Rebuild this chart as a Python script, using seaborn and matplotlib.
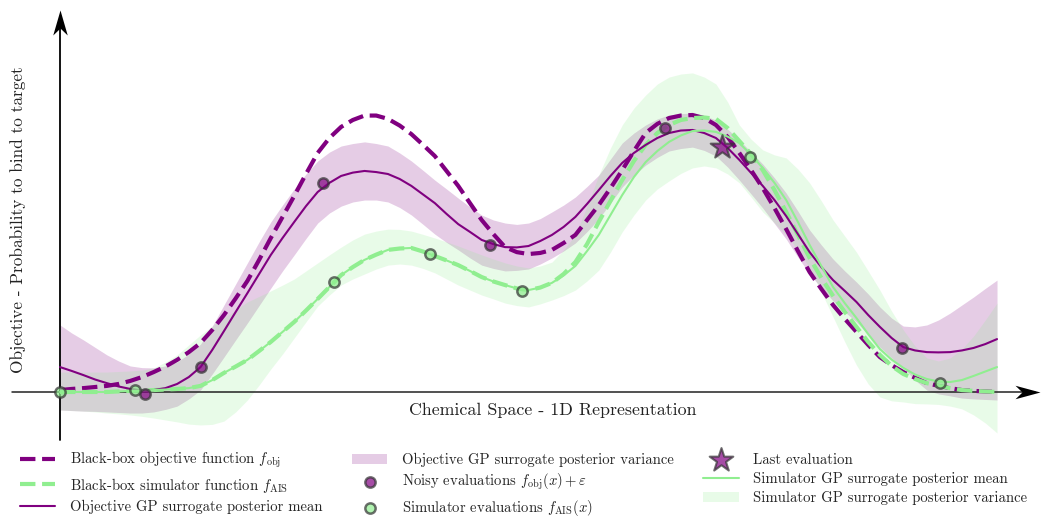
import numpy as np
import pandas as pd
import matplotlib
matplotlib.use("Agg")
import matplotlib.pyplot as plt
from matplotlib.path import Path
import seaborn as sns

# ---------------- data ----------------
# positions along the 1D chemical-space axis where the curves were read
x_pos = [0.0, 0.125, 0.25, 0.375, 0.5, 0.625, 0.75, 0.875, 1.0, 1.125,
         1.25, 1.375, 1.5, 1.625, 1.75, 1.875, 2.0, 2.125, 2.25, 2.375,
         2.5, 2.625, 2.75, 2.875, 3.0, 3.125, 3.25, 3.375, 3.5, 3.625,
         3.75, 3.875, 4.0, 4.125, 4.25, 4.375, 4.5, 4.625, 4.75, 4.875,
         5.0, 5.125, 5.25, 5.375, 5.5, 5.625, 5.75, 5.875, 6.0, 6.125,
         6.25, 6.375, 6.5, 6.625, 6.75, 6.875, 7.0, 7.125, 7.25, 7.375,
         7.5, 7.625, 7.75, 7.875, 8.0, 8.125, 8.25, 8.375, 8.5, 8.625,
         8.75, 8.875, 9.0, 9.125, 9.25, 9.375, 9.5, 9.625, 9.75, 9.875, 10.0]

obj_true = [0.007, 0.011, 0.014, 0.018, 0.022, 0.029, 0.040, 0.054, 0.072, 0.092,
            0.116, 0.144, 0.177, 0.224, 0.278, 0.338, 0.401, 0.477, 0.556, 0.632,
            0.708, 0.787, 0.863, 0.917, 0.957, 0.982, 0.998, 0.998, 0.986, 0.962,
            0.931, 0.892, 0.852, 0.798, 0.744, 0.682, 0.621, 0.570, 0.523, 0.505,
            0.498, 0.502, 0.513, 0.538, 0.567, 0.621, 0.675, 0.736, 0.801, 0.870,
            0.935, 0.968, 0.989, 0.998, 1.000, 0.989, 0.964, 0.921, 0.863, 0.801,
            0.736, 0.664, 0.588, 0.509, 0.433, 0.372, 0.314, 0.264, 0.217, 0.170,
            0.126, 0.097, 0.072, 0.051, 0.032, 0.022, 0.014, 0.007, 0.004, 0.002, 0.000]

obj_mean = [0.090, 0.076, 0.061, 0.045, 0.032, 0.020, 0.011, 0.005, 0.007, 0.014,
            0.029, 0.054, 0.090, 0.152, 0.220, 0.289, 0.357, 0.426, 0.495, 0.556,
            0.614, 0.671, 0.722, 0.755, 0.780, 0.792, 0.798, 0.794, 0.787, 0.769,
            0.744, 0.713, 0.682, 0.643, 0.606, 0.578, 0.549, 0.534, 0.523, 0.522,
            0.527, 0.545, 0.567, 0.596, 0.632, 0.679, 0.729, 0.780, 0.827, 0.863,
            0.892, 0.917, 0.935, 0.944, 0.946, 0.935, 0.917, 0.881, 0.838, 0.791,
            0.744, 0.693, 0.635, 0.570, 0.505, 0.451, 0.404, 0.365, 0.325, 0.278,
            0.235, 0.195, 0.162, 0.150, 0.144, 0.143, 0.144, 0.150, 0.159, 0.173, 0.191]

obj_upper = [0.242, 0.213, 0.188, 0.161, 0.134, 0.112, 0.094, 0.088, 0.087, 0.094,
             0.108, 0.137, 0.173, 0.238, 0.314, 0.390, 0.466, 0.542, 0.614, 0.675,
             0.733, 0.787, 0.834, 0.866, 0.888, 0.897, 0.903, 0.897, 0.888, 0.863,
             0.834, 0.800, 0.765, 0.733, 0.700, 0.668, 0.639, 0.621, 0.610, 0.605,
             0.610, 0.626, 0.650, 0.675, 0.704, 0.742, 0.783, 0.841, 0.899, 0.935,
             0.964, 0.986, 1.000, 1.005, 1.007, 0.998, 0.982, 0.949, 0.910, 0.866,
             0.823, 0.773, 0.718, 0.653, 0.585, 0.531, 0.480, 0.437, 0.397, 0.354,
             0.307, 0.267, 0.238, 0.235, 0.242, 0.260, 0.285, 0.314, 0.343, 0.374, 0.404]

obj_lower = [-0.065, -0.067, -0.069, -0.070, -0.072, -0.074, -0.076, -0.076, -0.072, -0.063,
             -0.051, -0.025, 0.007, 0.065, 0.126, 0.188, 0.249, 0.312, 0.375, 0.437,
             0.495, 0.554, 0.610, 0.646, 0.671, 0.686, 0.693, 0.693, 0.686, 0.666,
             0.639, 0.605, 0.570, 0.540, 0.513, 0.484, 0.458, 0.446, 0.437, 0.439,
             0.444, 0.462, 0.484, 0.509, 0.538, 0.579, 0.625, 0.682, 0.740, 0.783,
             0.819, 0.847, 0.870, 0.879, 0.884, 0.872, 0.852, 0.812, 0.765, 0.715,
             0.664, 0.608, 0.552, 0.487, 0.426, 0.375, 0.329, 0.289, 0.253, 0.206,
             0.162, 0.123, 0.087, 0.043, 0.007, -0.007, -0.014, -0.022, -0.025, -0.027, -0.029]

sim_true = [0.000, 0.000, 0.000, 0.000, 0.000, 0.002, 0.004, 0.005, 0.007, 0.009,
            0.011, 0.014, 0.022, 0.043, 0.069, 0.092, 0.116, 0.148, 0.181, 0.217,
            0.253, 0.294, 0.336, 0.379, 0.422, 0.451, 0.477, 0.496, 0.513, 0.518,
            0.520, 0.507, 0.491, 0.475, 0.458, 0.437, 0.415, 0.399, 0.386, 0.374,
            0.368, 0.377, 0.394, 0.426, 0.469, 0.534, 0.614, 0.690, 0.765, 0.834,
            0.892, 0.935, 0.964, 0.982, 0.989, 0.991, 0.986, 0.953, 0.906, 0.859,
            0.801, 0.729, 0.650, 0.567, 0.484, 0.412, 0.347, 0.289, 0.235, 0.181,
            0.134, 0.094, 0.065, 0.047, 0.032, 0.022, 0.014, 0.007, 0.004, 0.002, 0.000]

sim_mean = [0.000, 0.000, 0.000, 0.000, 0.000, 0.002, 0.004, 0.005, 0.007, 0.009,
            0.011, 0.014, 0.022, 0.043, 0.069, 0.092, 0.116, 0.148, 0.181, 0.217,
            0.253, 0.294, 0.336, 0.379, 0.422, 0.451, 0.477, 0.496, 0.513, 0.518,
            0.520, 0.507, 0.491, 0.475, 0.458, 0.437, 0.415, 0.399, 0.386, 0.374,
            0.368, 0.377, 0.394, 0.421, 0.455, 0.509, 0.567, 0.639, 0.711, 0.776,
            0.830, 0.870, 0.903, 0.926, 0.942, 0.944, 0.939, 0.922, 0.899, 0.856,
            0.809, 0.755, 0.693, 0.614, 0.531, 0.455, 0.379, 0.321, 0.267, 0.209,
            0.155, 0.117, 0.087, 0.063, 0.047, 0.038, 0.036, 0.043, 0.058, 0.074, 0.090]

sim_upper = [0.072, 0.072, 0.072, 0.072, 0.072, 0.074, 0.076, 0.079, 0.087, 0.108,
             0.134, 0.170, 0.206, 0.238, 0.267, 0.296, 0.325, 0.345, 0.365, 0.386,
             0.408, 0.437, 0.466, 0.495, 0.523, 0.549, 0.570, 0.581, 0.588, 0.587,
             0.581, 0.569, 0.556, 0.542, 0.527, 0.511, 0.495, 0.480, 0.466, 0.455,
             0.448, 0.455, 0.469, 0.513, 0.567, 0.671, 0.783, 0.881, 0.964, 1.025,
             1.072, 1.112, 1.137, 1.148, 1.152, 1.137, 1.112, 1.047, 0.964, 0.913,
             0.874, 0.856, 0.845, 0.805, 0.755, 0.690, 0.621, 0.563, 0.505, 0.437,
             0.368, 0.292, 0.224, 0.166, 0.123, 0.112, 0.123, 0.155, 0.202, 0.260, 0.321]

sim_lower = [-0.065, -0.067, -0.069, -0.072, -0.076, -0.079, -0.083, -0.088, -0.094, -0.101,
             -0.108, -0.116, -0.119, -0.117, -0.105, -0.072, -0.029, 0.025, 0.083, 0.137,
             0.195, 0.253, 0.310, 0.350, 0.386, 0.408, 0.426, 0.444, 0.458, 0.462,
             0.458, 0.446, 0.430, 0.408, 0.386, 0.368, 0.350, 0.336, 0.321, 0.312,
             0.307, 0.318, 0.332, 0.348, 0.368, 0.401, 0.440, 0.505, 0.578, 0.639,
             0.693, 0.733, 0.762, 0.789, 0.809, 0.816, 0.809, 0.787, 0.755, 0.704,
             0.650, 0.610, 0.567, 0.513, 0.448, 0.361, 0.271, 0.181, 0.097, 0.029,
             -0.018, -0.032, -0.036, -0.042, -0.043, -0.045, -0.051, -0.061, -0.083, -0.112, -0.148]

noisy_x = [0.907, 1.505, 2.807, 4.589, 6.457, 8.986]
noisy_y = [-0.007, 0.090, 0.755, 0.531, 0.953, 0.159]

simeval_x = [0.0, 0.800, 2.924, 3.949, 4.931, 7.364, 9.392]
simeval_y = [0.0, 0.007, 0.397, 0.498, 0.365, 0.848, 0.032]

last_x = [7.07]
last_y = [0.884]

labels = {
    "obj_true": r"Black-box objective function $f_{\mathrm{obj}}$",
    "sim_true": r"Black-box simulator function $f_{\mathrm{AIS}}$",
    "obj_mean": "Objective GP surrogate posterior mean",
    "obj_var": "Objective GP surrogate posterior variance",
    "noisy": r"Noisy evaluations $f_{\mathrm{obj}}(x) + \varepsilon$",
    "simeval": r"Simulator evaluations $f_{\mathrm{AIS}}(x)$",
    "last": "Last evaluation",
    "sim_mean": "Simulator GP surrogate posterior mean",
    "sim_var": "Simulator GP surrogate posterior variance",
}

# ---------------- styling ----------------
sns.set_style("white")
plt.rcParams["font.family"] = ["cmr10", "DejaVu Serif"]
plt.rcParams["mathtext.fontset"] = "cm"
plt.rcParams["axes.unicode_minus"] = False
plt.rcParams["axes.formatter.use_mathtext"] = True
plt.rcParams["lines.solid_joinstyle"] = "round"
plt.rcParams["lines.dash_joinstyle"] = "round"

PURPLE = "purple"
GREEN = "lightgreen"
EDGE = "#333333"

df = pd.DataFrame({"x": x_pos, "obj_true": obj_true, "obj_mean": obj_mean,
                   "obj_upper": obj_upper, "obj_lower": obj_lower,
                   "sim_true": sim_true, "sim_mean": sim_mean,
                   "sim_upper": sim_upper, "sim_lower": sim_lower})

fig = plt.figure(figsize=(10.42, 5.17), dpi=100)
ax = fig.add_axes([0, 0, 1, 1])
ax.set_xlim(-0.6403, 10.480)
ax.set_ylim(-0.4513, 1.4152)
ax.set_axis_off()

# bands
ax.fill_between(df["x"], df["obj_lower"], df["obj_upper"], color=PURPLE, alpha=0.2,
                lw=0, label=labels["obj_var"], zorder=1)
ax.fill_between(df["x"], df["sim_lower"], df["sim_upper"], color=GREEN, alpha=0.2,
                lw=0, label=labels["sim_var"], zorder=1)

# curves
sns.lineplot(data=df, x="x", y="obj_true", color=PURPLE, lw=3, linestyle="--",
             label=labels["obj_true"], ax=ax, zorder=3)
sns.lineplot(data=df, x="x", y="sim_true", color=GREEN, lw=3, linestyle="--",
             label=labels["sim_true"], ax=ax, zorder=3)
sns.lineplot(data=df, x="x", y="obj_mean", color=PURPLE, lw=1.5,
             label=labels["obj_mean"], ax=ax, zorder=3)
sns.lineplot(data=df, x="x", y="sim_mean", color=GREEN, lw=1.5,
             label=labels["sim_mean"], ax=ax, zorder=3)

# points
sns.scatterplot(x=noisy_x, y=noisy_y, color=PURPLE, edgecolor=EDGE, linewidth=1.8,
                s=55, alpha=0.7, label=labels["noisy"], ax=ax, zorder=5)
sns.scatterplot(x=simeval_x, y=simeval_y, color=GREEN, edgecolor=EDGE, linewidth=1.8,
                s=55, alpha=0.7, label=labels["simeval"], ax=ax, zorder=5)
sns.scatterplot(x=last_x, y=last_y, color=PURPLE, edgecolor=EDGE, linewidth=1.5,
                marker="*", s=320, alpha=0.7, label=labels["last"], ax=ax, zorder=6)

# axes with arrow heads
right_head = Path([(0, 0), (-1, 0.27), (-0.72, 0), (-1, -0.27), (0, 0)])
up_head = Path([(0, 0), (0.29, -1), (0, -0.72), (-0.29, -1), (0, 0)])
ax.plot([-0.512, 10.40], [0, 0], color="#222222", lw=1.1, zorder=2)
ax.plot([10.459], [0], marker=right_head, ms=36, color="black", mec="none", zorder=7)
ax.plot([0, 0], [-0.173, 1.33], color="black", lw=1.3, zorder=2)
ax.plot([0], [1.379], marker=up_head, ms=36, color="black", mec="none", zorder=7)

# axis titles
fig.text(553 / 1042, 1 - 410 / 517, "Chemical Space - 1D Representation",
         ha="center", va="center", fontsize=12.9, color="#222222")
fig.text(18 / 1042, 1 - 220 / 517, "Objective - Probability to bind to target",
         ha="center", va="center", rotation=90, fontsize=12.4, color="#222222")

# legend
handles, labs = ax.get_legend_handles_labels()
if ax.get_legend() is not None:
    ax.get_legend().remove()
hmap = dict(zip(labs, handles))
order = ["obj_true", "sim_true", "obj_mean", "obj_var", "noisy", "simeval",
         "last", "sim_mean", "sim_var"]
fig.legend([hmap[labels[k]] for k in order], [labels[k] for k in order],
           loc="upper left", bbox_to_anchor=(20 / 1042, 1 - 450 / 517), ncol=3,
           frameon=False, borderpad=0, borderaxespad=0, handlelength=2.4,
           handletextpad=1.0, columnspacing=2.0, labelspacing=0.35, fontsize=10.6)

fig.savefig("out.png", dpi=100)
